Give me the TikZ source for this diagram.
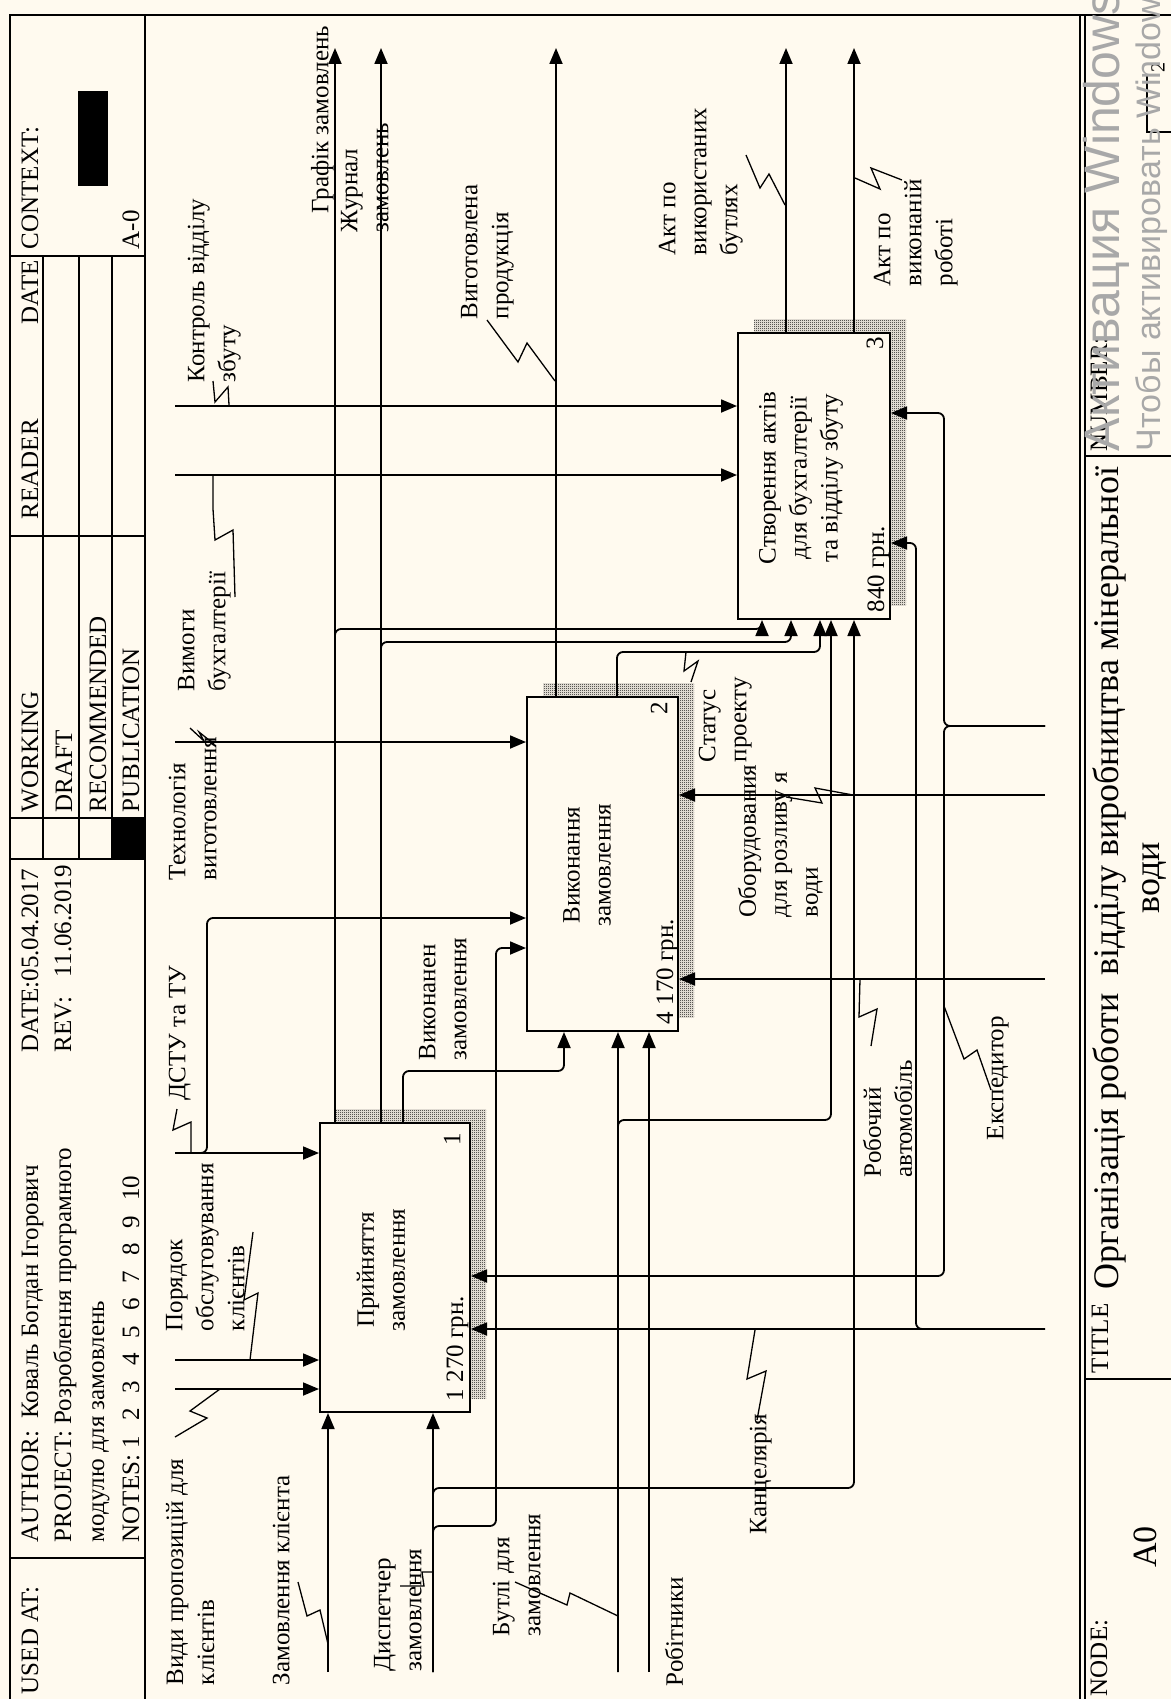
\documentclass[tikz,border=0pt]{standalone}
\usepackage{fontspec}
\setmainfont{Liberation Serif}
\newfontfamily\wmfont{Liberation Sans}
\usetikzlibrary{arrows.meta, patterns}
\definecolor{paper}{RGB}{255,250,239}
\definecolor{wmgray}{RGB}{168,168,168}
\pgfdeclarepatternformonly{finecheck}{\pgfqpoint{0pt}{0pt}}{\pgfqpoint{2pt}{2pt}}{\pgfqpoint{2pt}{2pt}}{
  \pgfpathrectangle{\pgfqpoint{0pt}{0pt}}{\pgfqpoint{1pt}{1pt}}
  \pgfpathrectangle{\pgfqpoint{1pt}{1pt}}{\pgfqpoint{1pt}{1pt}}
  \pgfusepath{fill}}

\begin{document}
\begin{tikzpicture}[x=1pt, y=-1pt, line width=1.8pt,
    every node/.style={inner sep=0pt},
    lbl/.style={rotate=90, anchor=north west, align=left, font=\fontsize{25}{31}\selectfont},
    hdr/.style={rotate=90, anchor=base west, font=\fontsize{25}{30}\selectfont},
    actbox/.style={draw, fill=paper, line width=2pt},
    boxtxt/.style={rotate=90, align=center, font=\fontsize{25}{31}\selectfont},
    arr/.style={-{Triangle[length=16pt,width=13pt]}, rounded corners=6pt},
    zig/.style={line width=1.3pt}]
  \useasboundingbox (0,0) rectangle (1171,1699);
  \fill[paper] (0,0) rectangle (1171,1699);

  % frame, header and footer
  \draw (10,1699) -- (10,15) -- (1171,15);
  \draw (145,15) -- (145,1699);
  \draw[line width=1.5pt] (1080,15) -- (1080,1699);
  \draw[line width=1.5pt] (1085,15) -- (1085,1699);
  \foreach \yy in {256,536,818,859,1558} \draw (10,\yy) -- (145,\yy);
  \foreach \xx in {43,79,112} \draw (\xx,256) -- (\xx,859);
  \fill (112,818) rectangle (145,859);
  \fill (78,91) rectangle (108,186);
  \draw (1085,456) -- (1171,456);
  \draw (1085,1379) -- (1171,1379);
  \draw (1147,75) -- (1147,132) -- (1171,132);

  \node[hdr] (usedat) at (38,1695) {USED AT:};
  \node[hdr] (author) at (38,1543) {AUTHOR:\ \ Коваль Богдан Ігорович};
  \node[hdr] (project) at (71,1543) {PROJECT:\ Розроблення програмного};
  \node[hdr] (project2) at (104,1543) {модулю для замовлень};
  \node[hdr] (notes) at (139,1543) {NOTES:\ 1\hspace{.6em}2\hspace{.6em}3\hspace{.6em}4\hspace{.6em}5\hspace{.6em}6\hspace{.6em}7\hspace{.6em}8\hspace{.6em}9\hspace{.6em}10};
  \node[hdr] (date) at (38,1053) {DATE:05.04.2017};
  \node[hdr] (rev) at (71,1053) {REV:\hspace{.8em}11.06.2019};
  \node[hdr] (working) at (38,813) {WORKING};
  \node[hdr] (draft) at (72,813) {DRAFT};
  \node[hdr] (recom) at (106,813) {RECOMMENDED};
  \node[hdr] (publ) at (139,813) {PUBLICATION};
  \node[hdr] (reader) at (38,520) {READER};
  \node[hdr] (rdate) at (38,325) {DATE};
  \node[hdr] (context) at (38,250) {CONTEXT:};
  \node[hdr] (ctxnum) at (139,250) {A-0};

  \node[hdr] (numlbl) at (1107,452) {NUMBER:};
  \node[hdr] (titlelbl) at (1108,1374) {TITLE};
  \node[hdr] (nodelbl) at (1107,1697) {NODE:};
  \node[rotate=90, align=center, anchor=north, font=\fontsize{36}{41}\selectfont] (title) at (1092,878)
    {Організація роботи\ \ відділу виробництва мінеральної\\води};
  \node[rotate=90, font=\fontsize{34}{40}\selectfont] (nodeid) at (1145,1547) {A0};
  \node[rotate=90, font=\fontsize{20}{20}\selectfont] (pgnum) at (1158,68) {2};

  % activity boxes with their shadows
  \foreach \nm/\cx/\cy/\w/\h in {A1/395/1267.5/150/289, A2/602.5/864/151/334, A3/814/476/152/286} {
    \fill[pattern=finecheck] (\cx-\w/2+16,\cy-\h/2-14) rectangle (\cx+\w/2+16,\cy+\h/2-14);
    \node[actbox, minimum width=\w pt, minimum height=\h pt] (\nm) at (\cx,\cy) {};
  }
  \node[boxtxt] (A1t) at (381,1270) {Прийняття\\замовлення};
  \node[boxtxt] (A2t) at (587,865) {Виконання\\замовлення};
  \node[boxtxt] (A3t) at (801,478) {Створення актів\\для бухгалтерії\\та відділу збуту};
  \node[rotate=90, font=\fontsize{25}{30}\selectfont] (A1n) at (452,1139) {1};
  \node[rotate=90, font=\fontsize{25}{30}\selectfont] (A2n) at (659,708) {2};
  \node[rotate=90, font=\fontsize{25}{30}\selectfont] (A3n) at (875,343) {3};
  \node[hdr] (A1c) at (463,1402) {1 270 грн.};
  \node[hdr] (A2c) at (673,1025) {4 170 грн.};
  \node[hdr] (A3c) at (884,613) {840 грн.};

  % free ends of the arrows
  \coordinate (kontrol) at (175,406);
  \coordinate (vymohy) at (175,475);
  \coordinate (tekhn) at (175,742);
  \coordinate (dstu) at (175,1153);
  \coordinate (poryad) at (175,1360);
  \coordinate (vydy) at (175,1389);
  \coordinate (zamkl) at (328,1672);
  \coordinate (dysp) at (433,1672);
  \coordinate (butli) at (618,1672);
  \coordinate (robit) at (649,1672);
  \coordinate (eksp) at (1045,726);
  \coordinate (obor) at (1045,795);
  \coordinate (avto) at (1045,979);
  \coordinate (kants) at (1045,1329);
  \coordinate (grafik) at (335,48);
  \coordinate (zhurnal) at (381,48);
  \coordinate (vyhot) at (556,48);
  \coordinate (aktb) at (786,48);
  \coordinate (aktr) at (854,48);

  % controls
  \draw[arr] (kontrol) -- (kontrol -| A3.west);
  \draw[arr] (vymohy) -- (vymohy -| A3.west);
  \draw[arr] (tekhn) -- (tekhn -| A2.west);
  \draw[arr] (dstu) -- (dstu -| A1.west);
  \draw[arr] (dstu) -- (207,1153) -- (207,918) -- (A2.west |- 0,918);
  \draw[arr] (poryad) -- (poryad -| A1.west);
  \draw[arr] (vydy) -- (vydy -| A1.west);

  % inputs
  \draw[arr] (zamkl) -- (zamkl |- A1.south);
  \draw[arr] (dysp) -- (dysp |- A1.south);
  \draw[arr] (dysp) -- (433,1526) -- (496,1526) -- (496,948) -- (A2.west |- 0,948);
  \draw[arr] (dysp) -- (433,1488) -- (854,1488) -- (A3.south -| 854,0);
  \draw[arr] (butli) -- (butli |- A2.south);
  \draw[arr] (butli) -- (618,1120) -- (831,1120) -- (A3.south -| 831,0);
  \draw[arr] (robit) -- (robit |- A2.south);

  % outputs
  \draw[arr] (A1.north -| 403,0) -- (403,1071) -- (564,1071) -- (A2.south -| 564,0);
  \draw[arr] (A1.north -| grafik) -- (grafik);
  \draw[arr] (A1.north -| grafik) -- (335,629) -- (762,629) -- (A3.south -| 762,0);
  \draw[arr] (A1.north -| zhurnal) -- (zhurnal);
  \draw[arr] (A1.north -| zhurnal) -- (381,642) -- (791,642) -- (A3.south -| 791,0);
  \draw[arr] (A2.north -| vyhot) -- (vyhot);
  \draw[arr] (A2.north -| 617,0) -- (617,652) -- (820,652) -- (A3.south -| 820,0);
  \draw[arr] (A3.north -| aktb) -- (aktb);
  \draw[arr] (A3.north -| aktr) -- (aktr);

  % mechanisms
  \draw[arr] (eksp) -- (944,726) -- (944,413) -- (A3.east |- 0,413);
  \draw[arr] (eksp) -- (944,726) -- (944,1276) -- (A1.east |- 0,1276);
  \draw[arr] (obor) -- (obor -| A2.east);
  \draw[arr] (avto) -- (avto -| A2.east);
  \draw[arr] (kants) -- (kants -| A1.east);
  \draw[arr] (kants) -- (916,1329) -- (916,543) -- (A3.east |- 0,543);

  % arrow labels
  \foreach \nm/\px/\py/\txt in {
      lKontrol/187/383/{Контроль відділу\\збуту},
      lVymohy/177/692/{Вимоги\\бухгалтерії},
      lGrafik/310/214/{Графік замовлень},
      lZhurnal/340/233/{Журнал\\замовлень},
      lVyhot/460/320/{Виготовлена\\продукція},
      lAktB/658/256/{Акт по\\використаних\\бутлях},
      lAktR/873/287/{Акт по\\виконаній\\роботі},
      lTekhn/168/881/{Технологія\\виготовлення},
      lDstu/168/1101/{ДСТУ та ТУ},
      lPoryad/165/1332/{Порядок\\обслуговування\\клієнтів},
      lVydy/165/1686/{Види пропозицій для\\клієнтів},
      lZamKl/272/1686/{Замовлення клієнта},
      lDysp/373/1672/{Диспетчер\\замовлення},
      lButli/492/1637/{Бутлі для\\замовлення},
      lRobit/664/1687/{Робітники},
      lKants/749/1535/{Канцелярія},
      lAvto/862/1178/{Робочий\\автомобіль},
      lEksp/986/1141/{Експедитор},
      lObor/737/918/{Оборудования\\для розливу я\\води},
      lStatus/698/763/{Статус\\проекту},
      lVykon/418/1061/{Виконанен\\замовлення}}
    \node[lbl] (\nm) at (\px,\py) {\txt};

  % label leaders
  \draw[zig] (213,381) -- (215,402) -- (228,387) -- (229,405);
  \draw[zig] (213,475) -- (213,509) -- (215,540) -- (233,530) -- (235,597);
  \draw[zig] (487,320) -- (518,362) -- (527,343) -- (555,381);
  \draw[zig] (746,155) -- (760,188) -- (769,174) -- (785,205);
  \draw[zig] (855,178) -- (880,189) -- (871,168) -- (902,180);
  \draw[zig] (190,728) -- (204,741) -- (199,732) -- (214,744);
  \draw[zig] (191,1153) -- (191,1122) -- (173,1130) -- (177,1109);
  \draw[zig] (250,1360) -- (258,1293) -- (244,1300) -- (253,1232);
  \draw[zig] (220,1389) -- (190,1411) -- (207,1418) -- (175,1437);
  \draw[zig] (328,1644) -- (320,1610) -- (307,1616) -- (298,1582);
  \draw[zig] (433,1572) -- (422,1572) -- (424,1586) -- (400,1586);
  \draw[zig] (515,1582) -- (567,1605) -- (570,1593) -- (618,1616);
  \draw[zig] (755,1330) -- (747,1379) -- (766,1371) -- (757,1420);
  \draw[zig] (860,979) -- (859,1017) -- (877,1009) -- (871,1046);
  \draw[zig] (944,1006) -- (964,1059) -- (977,1050) -- (991,1090);
  \draw[zig] (786,797) -- (822,803) -- (815,788) -- (853,795);
  \draw[zig] (686,652) -- (684,671) -- (698,661) -- (691,682);

  % screen watermark
  \node[rotate=90, anchor=base west, text=wmgray, font=\wmfont\fontsize{50}{50}\selectfont] (wm1) at (1119,452) {Активация Windows};
  \node[rotate=90, anchor=base west, text=wmgray, font=\wmfont\fontsize{34}{34}\selectfont] (wm2) at (1160,452) {Чтобы активировать Windows};
\end{tikzpicture}
\end{document}
